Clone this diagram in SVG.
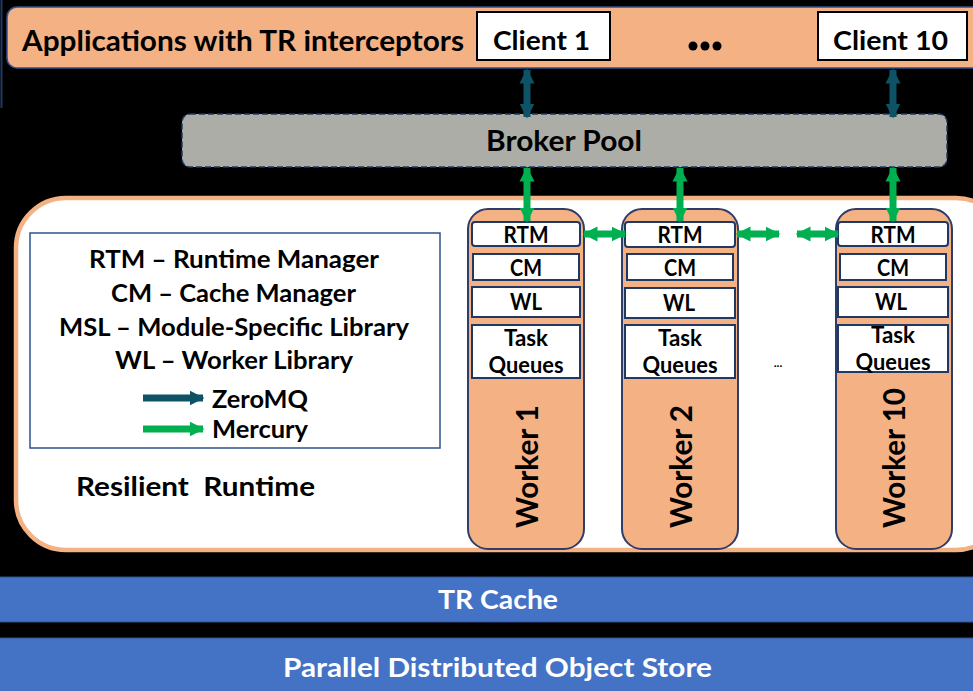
<svg xmlns="http://www.w3.org/2000/svg" width="973" height="691" viewBox="0 0 973 691">
<style>
text{font-family:Lato,"Open Sans","Liberation Sans",sans-serif;font-weight:bold;fill:#000}
.w{fill:#fff}
.box{fill:#fff;stroke:#1F3864;stroke-width:2}
.col{fill:#F4B183;stroke:#2F3D6B;stroke-width:2}
.zmq{stroke:#0E5266;stroke-width:7;fill:none}
.hg{stroke:#00B050;stroke-width:7;fill:none}
</style>
<defs>
<marker id="mz" viewBox="0 0 10 10" refX="9" refY="5" markerUnits="userSpaceOnUse" markerWidth="15" markerHeight="17" orient="auto-start-reverse"><path d="M0,0L10,5L0,10z" fill="#0E5266"/></marker>
<marker id="mg" viewBox="0 0 10 10" refX="9" refY="5" markerUnits="userSpaceOnUse" markerWidth="15" markerHeight="18" orient="auto-start-reverse"><path d="M0,0L10,5L0,10z" fill="#00B050"/></marker>
</defs>
<rect width="973" height="691" fill="#000"/>
<line x1="1.5" y1="0" x2="1.5" y2="108" stroke="#1F3864" stroke-width="2"/>
<g id="applications">
<rect x="7" y="7" width="990" height="61" rx="10" fill="#F4B183" stroke="#2F528F" stroke-width="1.5"/>
<text x="22" y="51" font-size="28" textLength="442" lengthAdjust="spacingAndGlyphs">Applications with TR interceptors</text>
<circle cx="693" cy="46" r="4.5"/><circle cx="705" cy="46" r="4.5"/><circle cx="717" cy="46" r="4.5"/>
</g>
<g id="client1">
<rect x="477" y="12" width="133" height="48" fill="#fff" stroke="#000" stroke-width="2"/>
<text x="541.5" y="50" font-size="27" text-anchor="middle" textLength="97" lengthAdjust="spacingAndGlyphs">Client 1</text>
</g>
<g id="client10">
<rect x="818" y="12" width="149" height="48" fill="#fff" stroke="#000" stroke-width="2"/>
<text x="890.5" y="50" font-size="27" text-anchor="middle" textLength="115" lengthAdjust="spacingAndGlyphs">Client 10</text>
</g>
<g id="broker">
<rect x="182" y="114" width="765" height="53" rx="8" fill="#ABADA6" stroke="#1F3864" stroke-width="1.5" stroke-dasharray="6 3"/>
<text x="564" y="151" font-size="28" text-anchor="middle" textLength="156" lengthAdjust="spacingAndGlyphs">Broker Pool</text>
</g>
<g id="runtime">
<rect x="16" y="198" width="990" height="352" rx="50" fill="#fff" stroke="#F4B183" stroke-width="4.5"/>
<text x="76" y="496" font-size="27" textLength="239" lengthAdjust="spacingAndGlyphs" xml:space="preserve">Resilient  Runtime</text>
<text x="778" y="367" font-size="12" text-anchor="middle" font-weight="normal">...</text>
</g>
<g id="legend">
<rect x="30" y="233" width="410" height="215" fill="#fff" stroke="#2F528F" stroke-width="1.5"/>
<text x="234" y="268" font-size="24" text-anchor="middle" textLength="290" lengthAdjust="spacingAndGlyphs">RTM – Runtime Manager</text>
<text x="233.5" y="302" font-size="24" text-anchor="middle" textLength="245" lengthAdjust="spacingAndGlyphs">CM – Cache Manager</text>
<text x="234" y="336" font-size="24" text-anchor="middle" textLength="350" lengthAdjust="spacingAndGlyphs">MSL – Module-Specific Library</text>
<text x="234" y="369" font-size="24" text-anchor="middle" textLength="238" lengthAdjust="spacingAndGlyphs">WL – Worker Library</text>
<line class="zmq" x1="143" y1="398" x2="203" y2="398" marker-end="url(#mz)"/>
<text x="212" y="408" font-size="24" textLength="96" lengthAdjust="spacingAndGlyphs">ZeroMQ</text>
<line class="hg" x1="143" y1="429" x2="203" y2="429" marker-end="url(#mg)"/>
<text x="212" y="438" font-size="24" textLength="96" lengthAdjust="spacingAndGlyphs">Mercury</text>
</g>
<g id="worker1">
<rect class="col" x="468" y="209" width="116" height="340" rx="20"/>
<rect class="box" x="472" y="222" width="108" height="24" rx="3"/>
<text x="526" y="243" font-size="22" text-anchor="middle" textLength="45" lengthAdjust="spacingAndGlyphs">RTM</text>
<rect class="box" x="473" y="254" width="106" height="26"/>
<text x="526" y="276" font-size="22" text-anchor="middle" textLength="32" lengthAdjust="spacingAndGlyphs">CM</text>
<rect class="box" x="472" y="287" width="108" height="30"/>
<text x="526" y="310" font-size="22" text-anchor="middle" textLength="32" lengthAdjust="spacingAndGlyphs">WL</text>
<rect class="box" x="472" y="325" width="108" height="53"/>
<text x="526" y="346" font-size="22" text-anchor="middle" textLength="44" lengthAdjust="spacingAndGlyphs">Task</text>
<text x="526" y="373" font-size="22" text-anchor="middle" textLength="75" lengthAdjust="spacingAndGlyphs">Queues</text>
<text transform="translate(538,466.5) rotate(-90)" font-size="31" text-anchor="middle" textLength="123" lengthAdjust="spacingAndGlyphs">Worker 1</text>
</g>
<g id="worker2">
<rect class="col" x="622" y="209" width="116" height="340" rx="20"/>
<rect class="box" x="625" y="222" width="110" height="25" rx="3"/>
<text x="680" y="243" font-size="22" text-anchor="middle" textLength="45" lengthAdjust="spacingAndGlyphs">RTM</text>
<rect class="box" x="627" y="254" width="106" height="26"/>
<text x="680" y="276" font-size="22" text-anchor="middle" textLength="32" lengthAdjust="spacingAndGlyphs">CM</text>
<rect class="box" x="625" y="288" width="110" height="30"/>
<text x="679" y="311" font-size="22" text-anchor="middle" textLength="32" lengthAdjust="spacingAndGlyphs">WL</text>
<rect class="box" x="625" y="325" width="110" height="53"/>
<text x="680" y="346" font-size="22" text-anchor="middle" textLength="44" lengthAdjust="spacingAndGlyphs">Task</text>
<text x="680" y="373" font-size="22" text-anchor="middle" textLength="75" lengthAdjust="spacingAndGlyphs">Queues</text>
<text transform="translate(692,466.5) rotate(-90)" font-size="31" text-anchor="middle" textLength="123" lengthAdjust="spacingAndGlyphs">Worker 2</text>
</g>
<g id="worker10">
<rect class="col" x="836" y="209" width="116" height="340" rx="20"/>
<rect class="box" x="838" y="222" width="110" height="24" rx="3"/>
<text x="893" y="243" font-size="22" text-anchor="middle" textLength="45" lengthAdjust="spacingAndGlyphs">RTM</text>
<rect class="box" x="840" y="254" width="106" height="26"/>
<text x="893" y="276" font-size="22" text-anchor="middle" textLength="32" lengthAdjust="spacingAndGlyphs">CM</text>
<rect class="box" x="838" y="287" width="110" height="30"/>
<text x="891" y="310" font-size="22" text-anchor="middle" textLength="32" lengthAdjust="spacingAndGlyphs">WL</text>
<rect class="box" x="838" y="325" width="110" height="47"/>
<text x="893" y="343" font-size="22" text-anchor="middle" textLength="44" lengthAdjust="spacingAndGlyphs">Task</text>
<text x="893" y="370" font-size="22" text-anchor="middle" textLength="75" lengthAdjust="spacingAndGlyphs">Queues</text>
<text transform="translate(905,458) rotate(-90)" font-size="31" text-anchor="middle" textLength="140" lengthAdjust="spacingAndGlyphs">Worker 10</text>
</g>
<g id="trcache">
<rect x="-5" y="577" width="990" height="45" rx="4" fill="#4472C4" stroke="#2F528F" stroke-width="1"/>
<text class="w" x="498" y="609" font-size="26" text-anchor="middle" textLength="120" lengthAdjust="spacingAndGlyphs">TR Cache</text>
</g>
<g id="objectstore">
<rect x="-5" y="638" width="990" height="60" rx="4" fill="#4472C4" stroke="#2F528F" stroke-width="1"/>
<text class="w" x="497.5" y="677" font-size="26" text-anchor="middle" textLength="429" lengthAdjust="spacingAndGlyphs">Parallel Distributed Object Store</text>
</g>
<g id="connectors">
<line class="zmq" x1="527" y1="70" x2="527" y2="117" marker-start="url(#mz)" marker-end="url(#mz)"/>
<line class="zmq" x1="893" y1="70" x2="893" y2="117" marker-start="url(#mz)" marker-end="url(#mz)"/>
<line class="hg" x1="527" y1="168" x2="527" y2="221" marker-start="url(#mg)" marker-end="url(#mg)"/>
<line class="hg" x1="680" y1="168" x2="680" y2="221" marker-start="url(#mg)" marker-end="url(#mg)"/>
<line class="hg" x1="893" y1="168" x2="893" y2="221" marker-start="url(#mg)" marker-end="url(#mg)"/>
<line class="hg" x1="584" y1="234" x2="625" y2="234" marker-start="url(#mg)" marker-end="url(#mg)"/>
<line class="hg" x1="737" y1="234" x2="779" y2="234" marker-start="url(#mg)" marker-end="url(#mg)"/>
<line class="hg" x1="797" y1="234" x2="838" y2="234" marker-start="url(#mg)" marker-end="url(#mg)"/>
</g>
</svg>
